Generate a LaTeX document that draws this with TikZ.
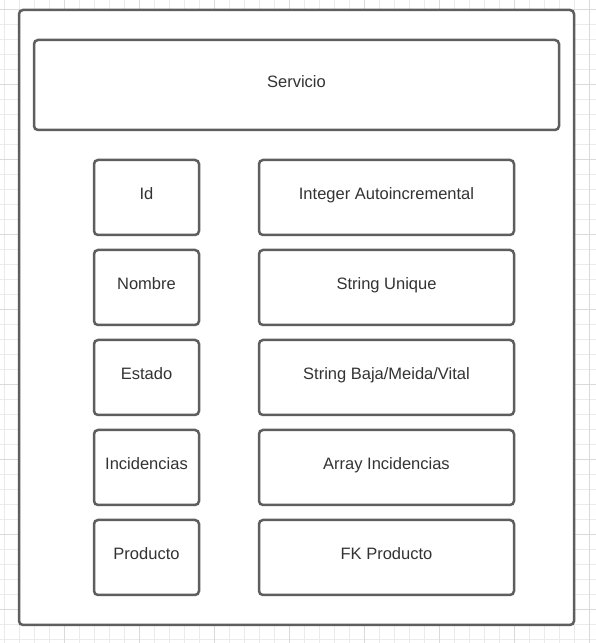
\documentclass[tikz,border=0pt]{standalone}
\usepackage{fontspec}
\setmainfont{Liberation Sans}
\usepackage{xcolor}
\usetikzlibrary{positioning}
\definecolor{boxline}{HTML}{5E5E5E}
\definecolor{boxtext}{HTML}{333333}
\definecolor{gridminor}{HTML}{EBEBEB}
\definecolor{gridmajor}{HTML}{DADADA}
\tikzstyle{entity} = [rectangle, rounded corners=4pt, minimum width=525pt, minimum height=90pt, text centered, text height=12pt, text depth=7pt, draw=boxline, line width=2.5pt, fill=white, text=boxtext]
\tikzstyle{field} = [entity, minimum width=105pt, minimum height=75pt]
\tikzstyle{fieldtype} = [entity, minimum width=255pt, minimum height=75pt]

\begin{document}
\begin{tikzpicture}[x=1pt, y=1pt, node distance=90pt, font=\fontsize{16.5}{20}\selectfont]
    \useasboundingbox (0,0) rectangle (596,643);
    % background grid
    \foreach \x in {4,19,...,594} \draw[gridminor, line width=0.8pt] (\x,0) -- (\x,643);
    \foreach \y in {4,19,...,634} \draw[gridminor, line width=0.8pt] (0,\y) -- (596,\y);
    \foreach \x in {64,139,...,589} \draw[gridmajor, line width=0.8pt] (\x,0) -- (\x,643);
    \foreach \y in {34,109,...,634} \draw[gridmajor, line width=0.8pt] (0,\y) -- (596,\y);

    \node (frame) [entity, minimum width=555pt, minimum height=615pt] at (296.5,325.5) {};
    \node (servicio) [entity] at (296.5,558) {Servicio};

    \node (id) [field] at (146.5,445.5) {Id};
    \node (nombre) [field, below of=id] {Nombre};
    \node (estado) [field, below of=nombre] {Estado};
    \node (incidencias) [field, below of=estado] {Incidencias};
    \node (producto) [field, below of=incidencias] {Producto};

    \node (idtype) [fieldtype, right of=id, xshift=150pt] {Integer Autoincremental};
    \node (nombretype) [fieldtype, below of=idtype] {String Unique};
    \node (estadotype) [fieldtype, below of=nombretype] {String Baja/Meida/Vital};
    \node (incidenciastype) [fieldtype, below of=estadotype] {Array Incidencias};
    \node (productotype) [fieldtype, below of=incidenciastype] {FK Producto};
\end{tikzpicture}
\end{document}
